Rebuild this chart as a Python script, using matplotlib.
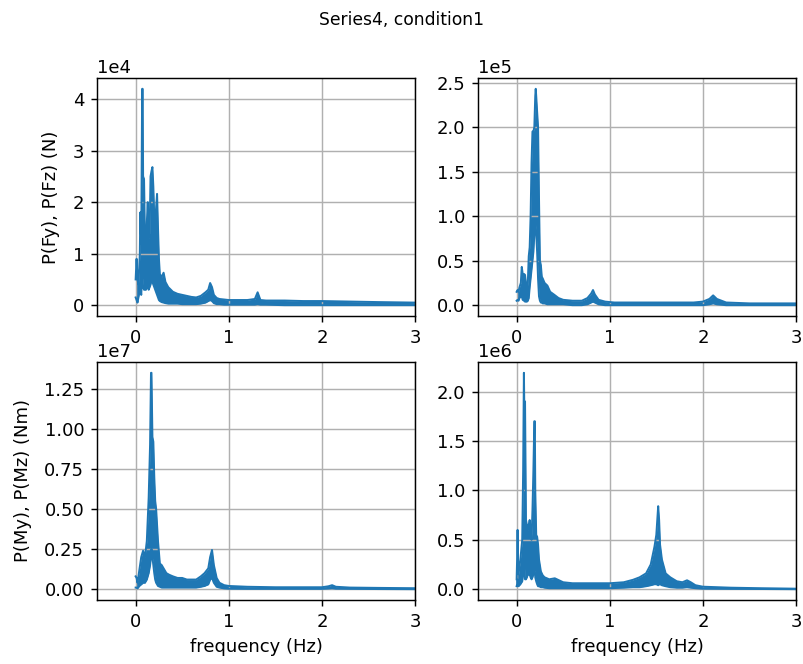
import numpy as np
import matplotlib
matplotlib.use("Agg")
import matplotlib.pyplot as plt

# frequency (Hz) and upper / lower envelope of the power spectra
fy_freq = [0.00, 0.01, 0.02, 0.03, 0.045, 0.05, 0.06, 0.07, 0.075, 0.08, 0.09, 0.10, 0.11, 0.12,
           0.13, 0.14, 0.15, 0.16, 0.17, 0.18, 0.19, 0.20, 0.21, 0.22, 0.23, 0.24, 0.25, 0.26,
           0.28, 0.30, 0.32, 0.35, 0.40, 0.45, 0.50, 0.55, 0.60, 0.65, 0.70, 0.75, 0.78, 0.80,
           0.82, 0.84, 0.87, 0.90, 0.95, 1.00, 1.10, 1.20, 1.28, 1.31, 1.34, 1.40, 1.60, 1.80,
           2.00, 2.30, 2.60, 3.00]
fy_hi = [0.5, 0.9, 0.5, 0.4, 1.0, 1.8, 1.2, 4.2, 4.2, 2.5, 2.45, 1.3, 1.1, 1.6,
         2.0, 1.3, 1.4, 2.5, 2.6, 2.68, 2.3, 1.7, 1.6, 1.9, 2.16, 1.5, 0.9, 0.6,
         0.55, 0.63, 0.45, 0.35, 0.26, 0.22, 0.2, 0.18, 0.16, 0.15, 0.18, 0.25, 0.3, 0.43,
         0.35, 0.2, 0.14, 0.12, 0.11, 0.1, 0.1, 0.1, 0.12, 0.25, 0.1, 0.09, 0.09, 0.08,
         0.08, 0.07, 0.06, 0.05]
fy_lo = [0.15, 0.1, 0.05, 0.15, 0.3, 0.35, 0.2, 0.6, 0.5, 0.35, 0.3, 0.3, 0.3, 0.35,
         0.35, 0.3, 0.35, 0.4, 0.5, 0.45, 0.4, 0.35, 0.3, 0.25, 0.2, 0.15, 0.1, 0.08,
         0.06, 0.05, 0.04, 0.03, 0.03, 0.03, 0.02, 0.02, 0.02, 0.02, 0.03, 0.05, 0.08, 0.1,
         0.08, 0.04, 0.02, 0.02, 0.01, 0.01, 0.01, 0.01, 0.01, 0.02, 0.01, 0.01, 0.0, 0.0,
         0.0, 0.0, 0.0, 0.0]

fz_freq = [0.00, 0.01, 0.02, 0.03, 0.045, 0.055, 0.065, 0.08, 0.09, 0.10, 0.11, 0.12, 0.13,
           0.14, 0.15, 0.16, 0.17, 0.18, 0.19, 0.20, 0.205, 0.21, 0.22, 0.23, 0.24, 0.25, 0.26,
           0.27, 0.28, 0.30, 0.33, 0.36, 0.40, 0.45, 0.50, 0.60, 0.70, 0.76, 0.80, 0.82, 0.84,
           0.88, 0.95, 1.05, 1.30, 1.60, 1.90, 2.00, 2.07, 2.11, 2.15, 2.25, 2.50, 3.00]
fz_hi = [0.15, 0.17, 0.15, 0.2, 0.25, 0.43, 0.35, 0.35, 0.34, 0.25, 0.15, 0.25, 0.55,
         0.65, 1.0, 1.6, 1.95, 1.95, 2.0, 2.35, 2.43, 2.35, 2.17, 2.0, 1.2, 0.5, 0.45,
         0.32, 0.3, 0.25, 0.22, 0.15, 0.12, 0.08, 0.06, 0.05, 0.05, 0.08, 0.13, 0.17, 0.12,
         0.06, 0.04, 0.03, 0.03, 0.03, 0.03, 0.04, 0.07, 0.11, 0.07, 0.03, 0.02, 0.02]
fz_lo = [0.05, 0.06, 0.05, 0.08, 0.1, 0.1, 0.06, 0.05, 0.04, 0.04, 0.04, 0.05, 0.08,
         0.2, 0.3, 0.4, 0.5, 0.6, 0.8, 0.9, 0.9, 0.8, 0.6, 0.3, 0.1, 0.05, 0.03,
         0.03, 0.02, 0.02, 0.01, 0.01, 0.01, 0.01, 0.01, 0.0, 0.0, 0.01, 0.03, 0.04, 0.03,
         0.01, 0.0, 0.0, 0.0, 0.0, 0.0, 0.0, 0.01, 0.02, 0.01, 0.0, 0.0, 0.0]

my_freq = [0.00, 0.01, 0.02, 0.04, 0.06, 0.08, 0.10, 0.12, 0.14, 0.155, 0.165, 0.17, 0.18,
           0.19, 0.20, 0.21, 0.22, 0.23, 0.24, 0.26, 0.28, 0.30, 0.33, 0.36, 0.40, 0.45,
           0.50, 0.55, 0.60, 0.65, 0.70, 0.74, 0.78, 0.80, 0.82, 0.84, 0.87, 0.90, 0.95,
           1.00, 1.20, 1.50, 1.80, 2.00, 2.07, 2.11, 2.15, 2.30, 2.60, 3.00]
my_hi = [0.08, 0.07, 0.04, 0.12, 0.2, 0.24, 0.2, 0.3, 0.57, 0.9, 1.35, 1.35, 0.95,
         0.92, 0.7, 0.55, 0.5, 0.4, 0.3, 0.16, 0.15, 0.13, 0.1, 0.09, 0.08, 0.07,
         0.07, 0.06, 0.06, 0.06, 0.08, 0.1, 0.13, 0.2, 0.245, 0.15, 0.07, 0.04, 0.025,
         0.02, 0.015, 0.012, 0.012, 0.012, 0.018, 0.025, 0.015, 0.01, 0.008, 0.006]
my_lo = [0.01, 0.01, 0.005, 0.02, 0.03, 0.04, 0.04, 0.06, 0.1, 0.15, 0.2, 0.25, 0.2,
         0.15, 0.1, 0.06, 0.04, 0.03, 0.02, 0.015, 0.01, 0.01, 0.01, 0.01, 0.01, 0.01,
         0.01, 0.01, 0.01, 0.01, 0.015, 0.02, 0.03, 0.06, 0.07, 0.04, 0.015, 0.01, 0.005,
         0.003, 0.002, 0.002, 0.002, 0.002, 0.004, 0.006, 0.003, 0.002, 0.001, 0.0]

mz_freq = [0.00, 0.005, 0.01, 0.015, 0.02, 0.04, 0.06, 0.07, 0.078, 0.085, 0.09, 0.10, 0.11,
           0.12, 0.13, 0.14, 0.15, 0.16, 0.17, 0.18, 0.19, 0.195, 0.20, 0.21, 0.22, 0.23,
           0.24, 0.26, 0.28, 0.30, 0.35, 0.41, 0.50, 0.60, 0.80, 1.00, 1.15, 1.25, 1.32,
           1.39, 1.44, 1.48, 1.50, 1.52, 1.53, 1.54, 1.56, 1.60, 1.65, 1.72, 1.78, 1.83,
           1.87, 1.92, 2.00, 2.30, 2.60, 3.00]
mz_hi = [0.1, 0.3, 0.6, 0.3, 0.15, 0.3, 0.5, 1.2, 2.19, 1.6, 1.9, 0.7, 0.65,
         0.6, 0.65, 0.7, 0.6, 0.5, 0.8, 1.2, 1.7, 1.7, 1.0, 0.55, 0.53, 0.45,
         0.3, 0.18, 0.14, 0.12, 0.1, 0.11, 0.07, 0.06, 0.06, 0.06, 0.07, 0.095, 0.12,
         0.16, 0.25, 0.43, 0.55, 0.84, 0.7, 0.45, 0.3, 0.16, 0.12, 0.08, 0.07, 0.09,
         0.07, 0.04, 0.025, 0.015, 0.01, 0.005]
mz_lo = [0.03, 0.05, 0.1, 0.05, 0.03, 0.05, 0.08, 0.15, 0.3, 0.2, 0.1, 0.1, 0.12,
         0.15, 0.15, 0.15, 0.12, 0.1, 0.12, 0.15, 0.2, 0.2, 0.12, 0.08, 0.05, 0.03,
         0.03, 0.02, 0.02, 0.015, 0.01, 0.01, 0.01, 0.01, 0.01, 0.01, 0.015, 0.02, 0.02,
         0.03, 0.04, 0.05, 0.05, 0.04, 0.05, 0.05, 0.04, 0.03, 0.02, 0.015, 0.015, 0.02,
         0.015, 0.01, 0.005, 0.003, 0.002, 0.0]

panels = [
    (fy_freq, fy_hi, fy_lo, 1e4),
    (fz_freq, fz_hi, fz_lo, 1e5),
    (my_freq, my_hi, my_lo, 1e7),
    (mz_freq, mz_hi, mz_lo, 1e6),
]

W, H = 803, 664
fig = plt.figure(figsize=(W / 130, H / 130), dpi=130)

# axes boxes in pixels: left, top, right, bottom
boxes = [(97, 78, 415, 316), (478, 78, 796, 316),
         (97, 362, 415, 600), (478, 362, 796, 600)]

axes = []
for (x0, y0, x1, y1), (freq, hi, lo, scale) in zip(boxes, panels):
    ax = fig.add_axes([x0 / W, 1 - y1 / H, (x1 - x0) / W, (y1 - y0) / H])
    hi = np.array(hi) * scale
    lo = np.array(lo) * scale
    ax.fill_between(freq, lo, hi, color="C0", lw=0)
    ax.plot(freq, hi, color="C0", lw=1.1)
    ax.plot(freq, lo, color="C0", lw=1.1)
    ax.set_xlim(-0.415, 3)
    ax.grid(True)
    ax.ticklabel_format(axis="y", style="sci", scilimits=(0, 0))
    axes.append(ax)

axes[0].set_ylabel("P(Fy), P(Fz) (N)", labelpad=7)
axes[2].set_ylabel("P(My), P(Mz) (Nm)", labelpad=7)
axes[2].set_xlabel("frequency (Hz)")
axes[3].set_xlabel("frequency (Hz)")
fig.suptitle("Series4, condition1", y=0.983, fontsize=9.5)

fig.savefig("out.png", dpi=130)
